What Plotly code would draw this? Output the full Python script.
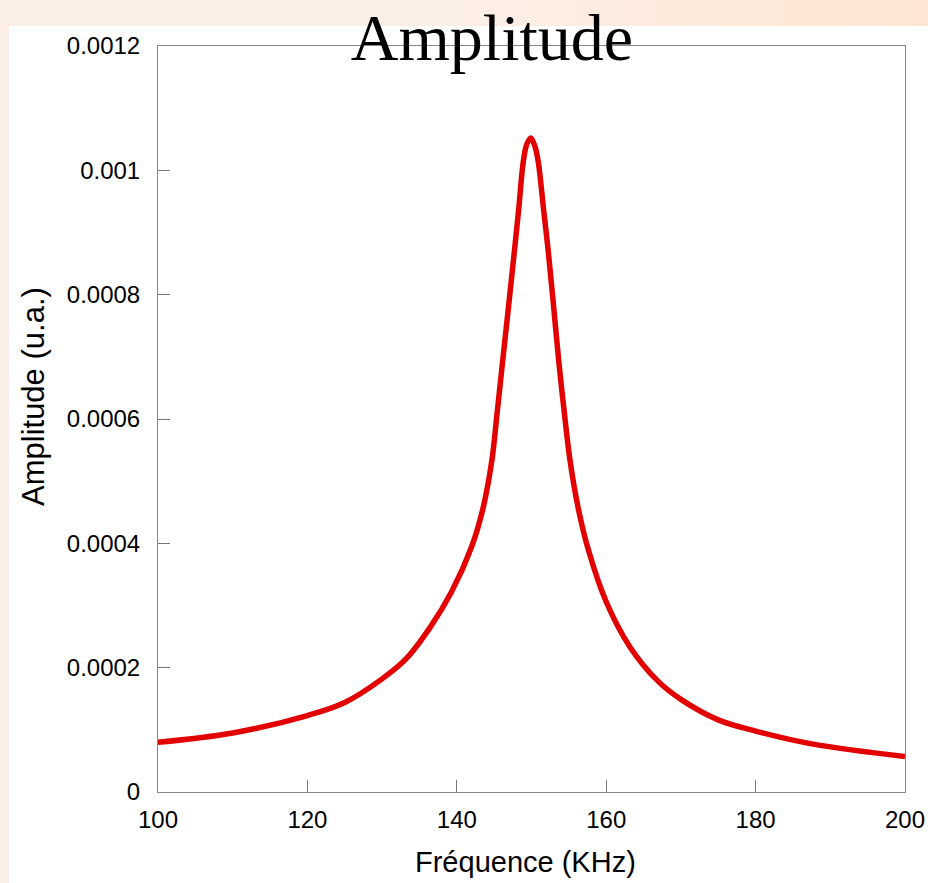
import base64
import plotly.graph_objects as go

# Data
freq_khz = [100, 110, 120, 125, 130, 133.2, 136.5, 139.3, 142.0, 143.5, 144.7,
            145.4, 146.2, 147.0, 147.7, 148.3, 148.9, 149.35, 149.9, 150.45,
            150.9, 151.6, 152.25, 152.9, 153.65, 154.35, 155.15, 156.3, 157.6,
            160, 163.2, 167, 170, 175, 180, 187.7, 200]
amplitude = [8.0e-5, 9.5e-5, 1.23e-4, 1.44e-4, 1.82e-4, 2.14e-4, 2.66e-4, 3.22e-4,
             3.95e-4, 4.56e-4, 5.34e-4, 6.10e-4, 7.00e-4, 7.89e-4, 8.69e-4,
             9.39e-4, 1.014e-3, 1.041e-3, 1.052e-3, 1.039e-3, 1.014e-3, 9.39e-4,
             8.69e-4, 7.89e-4, 6.93e-4, 6.15e-4, 5.34e-4, 4.54e-4, 3.90e-4,
             3.06e-4, 2.33e-4, 1.775e-4, 1.49e-4, 1.16e-4, 9.8e-5, 7.7e-5, 5.7e-5]

x_ticks = [100, 120, 140, 160, 180, 200]
y_ticks = [0, 0.0002, 0.0004, 0.0006, 0.0008, 0.001, 0.0012]
y_ticklabels = ["0", "0.0002", "0.0004", "0.0006", "0.0008", "0.001", "0.0012"]

title_text = "Amplitude"
x_title = "Fréquence (KHz)"
y_title = "Amplitude (u.a.)"

W, H = 928, 883
L, R, T, B = 158, 23, 46, 91
pw, ph = W - L - R, H - T - B

# peach gradient background (svg data uri)
svg = f'''<svg xmlns="http://www.w3.org/2000/svg" width="{W}" height="{H}">
<defs><linearGradient id="g" x1="0" y1="0" x2="1" y2="0">
<stop offset="0" stop-color="#fbeee6"/><stop offset="0.5" stop-color="#fcefe6"/>
<stop offset="1" stop-color="#fde5d2"/></linearGradient></defs>
<rect width="{W}" height="{H}" fill="url(#g)"/></svg>'''
bg_src = "data:image/svg+xml;base64," + base64.b64encode(svg.encode()).decode()

def px2x(p):
    return (p - L) / pw

def px2y(p):
    return (H - B - p) / ph

fig = go.Figure()
fig.add_trace(go.Scatter(
    x=freq_khz, y=amplitude, mode="lines",
    line=dict(color="rgb(226,0,0)", width=5.5, shape="spline", smoothing=1.0),
    hoverinfo="skip", showlegend=False,
))

fig.update_layout(
    width=W, height=H,
    margin=dict(l=L, r=R, t=T, b=B, pad=0),
    paper_bgcolor="#fcede4",
    plot_bgcolor="white",
    images=[dict(source=bg_src, xref="paper", yref="paper",
                 x=px2x(0), y=px2y(0), sizex=W / pw, sizey=H / ph,
                 sizing="stretch", xanchor="left", yanchor="top", layer="below")],
    shapes=[dict(type="rect", xref="paper", yref="paper",
                 x0=px2x(9), x1=px2x(W + 2), y0=px2y(H + 2), y1=px2y(26),
                 fillcolor="white", line=dict(width=0), layer="below")],
    title=dict(text=title_text, x=492 / W, xanchor="center", xref="container",
               y=1 - 37 / H, yanchor="middle", yref="container",
               font=dict(family="Liberation Serif", size=66, color="black")),
    font=dict(family="Liberation Sans", color="black"),
    annotations=[
        dict(text=x_title, xref="paper", yref="paper", x=px2x(525), y=px2y(862),
             xanchor="center", yanchor="middle", showarrow=False,
             font=dict(size=29)),
        dict(text=y_title, xref="paper", yref="paper", x=px2x(33), y=px2y(397),
             xanchor="center", yanchor="middle", showarrow=False, textangle=-90,
             font=dict(size=31)),
    ],
    xaxis=dict(range=[100, 200], tickvals=x_ticks, ticks="inside", ticklen=12,
               tickcolor="#777", tickwidth=1, showline=True, linecolor="#888",
               linewidth=1, mirror=True, showgrid=False, zeroline=False,
               ticklabelstandoff=6, automargin=False,
               tickfont=dict(size=24)),
    yaxis=dict(range=[0, 0.0012], tickvals=y_ticks, ticktext=y_ticklabels,
               ticks="inside", ticklen=12, tickcolor="#777", tickwidth=1,
               showline=True, linecolor="#888", linewidth=1, mirror=True,
               showgrid=False, zeroline=False, ticklabelstandoff=12,
               automargin=False, tickfont=dict(size=24)),
)

fig.write_html("out.html", config={"displayModeBar": False},
               post_script="document.body.style.margin='0';document.body.style.overflow='hidden';")
